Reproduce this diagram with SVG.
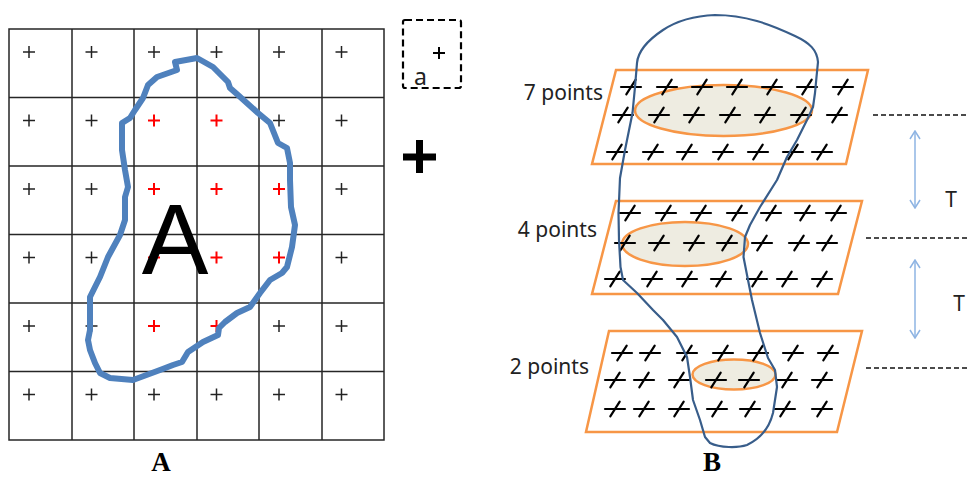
<svg xmlns="http://www.w3.org/2000/svg" xmlns:xlink="http://www.w3.org/1999/xlink" width="968" height="479" viewBox="0 0 968 479">
<style>
.grid{fill:none;stroke:#262626;stroke-width:1.5}
.pk{stroke:#222;stroke-width:1.5;fill:none}
.pr{stroke:#ff0000;stroke-width:2;fill:none}
.plane{fill:#ffffff;stroke:#f79646;stroke-width:2.5}
.ell{fill:#eeece1;stroke:#f79646;stroke-width:2.5}
.lbl{font-family:"Noto Sans","Liberation Sans",sans-serif;font-size:21px;fill:#222}
.cap{font-family:"Liberation Serif",serif;font-weight:bold;font-size:27px;fill:#000}
.dash{stroke:#111;stroke-width:1.5;stroke-dasharray:5 3;fill:none}
.arr{stroke:#8eb4e3;stroke-width:1.5;fill:none}
</style>
<defs>
<g id="pp"><line x1="-6" y1="0" x2="6" y2="0"/><line x1="0" y1="-6" x2="0" y2="6"/></g>
<g id="sx" stroke="#000" stroke-width="2.2" stroke-linecap="round"><line x1="-10" y1="0" x2="10" y2="0"/><line x1="4.7" y1="-7.3" x2="-4.7" y2="7.3"/></g>
<marker id="ah" viewBox="0 0 12 12" refX="11" refY="6" markerWidth="12" markerHeight="12" markerUnits="userSpaceOnUse" orient="auto-start-reverse"><polyline points="3,1 11,6 3,11" fill="none" stroke="#8eb4e3" stroke-width="1.5"/></marker>
</defs>

<g id="gridA">
<rect class="grid" x="9" y="29" width="375" height="411"/>
<path class="grid" d="M72,29V440M134,29V440M197,29V440M259,29V440M322,29V440M9,97.5H384M9,166H384M9,234.5H384M9,303H384M9,371.5H384"/>
<g class="pk">
<use xlink:href="#pp" x="29" y="52"/><use xlink:href="#pp" x="91.5" y="52"/><use xlink:href="#pp" x="154" y="52"/><use xlink:href="#pp" x="216.5" y="52"/><use xlink:href="#pp" x="279" y="52"/><use xlink:href="#pp" x="341.5" y="52"/>
<use xlink:href="#pp" x="29" y="120.5"/><use xlink:href="#pp" x="91.5" y="120.5"/><use xlink:href="#pp" x="279" y="120.5"/><use xlink:href="#pp" x="341.5" y="120.5"/>
<use xlink:href="#pp" x="29" y="189"/><use xlink:href="#pp" x="91.5" y="189"/><use xlink:href="#pp" x="341.5" y="189"/>
<use xlink:href="#pp" x="29" y="257.5"/><use xlink:href="#pp" x="91.5" y="257.5"/><use xlink:href="#pp" x="341.5" y="257.5"/>
<use xlink:href="#pp" x="29" y="326"/><use xlink:href="#pp" x="91.5" y="326"/><use xlink:href="#pp" x="279" y="326"/><use xlink:href="#pp" x="341.5" y="326"/>
<use xlink:href="#pp" x="29" y="394.5"/><use xlink:href="#pp" x="91.5" y="394.5"/><use xlink:href="#pp" x="154" y="394.5"/><use xlink:href="#pp" x="216.5" y="394.5"/><use xlink:href="#pp" x="279" y="394.5"/><use xlink:href="#pp" x="341.5" y="394.5"/>
</g>
<g class="pr">
<use xlink:href="#pp" x="154" y="120.5"/><use xlink:href="#pp" x="216.5" y="120.5"/>
<use xlink:href="#pp" x="154" y="189"/><use xlink:href="#pp" x="216.5" y="189"/><use xlink:href="#pp" x="279" y="189"/>
<use xlink:href="#pp" x="154" y="257.5"/><use xlink:href="#pp" x="216.5" y="257.5"/><use xlink:href="#pp" x="279" y="257.5"/>
<use xlink:href="#pp" x="154" y="326"/><use xlink:href="#pp" x="216.5" y="326"/>
</g>
<path d="M197,58 L213,67 L228,82 L230,88 L238,95 L258,113 L270,123 L278,143 L287,148 L290,163 L290,180 L291,207 L295,225 L292,247 L287,267 L282,273 L270,280 L260,293 L250,307 L237,313 L225,322 L219,328 L218,335 L203,342 L188,352 L182,362 L173,365 L160,370 L133,380 L110,378 L100,373 L95,363 L90,350 L88,340 L90,330 L90,297 L100,277 L108,257 L120,235 L125,220 L125,197 L128,187 L125,170 L122,150 L122,123 L130,118 L135,110 L143,98 L148,85 L157,77 L177,70 L175,62 Z" fill="none" stroke="#4f81bd" stroke-width="6" stroke-linejoin="round"/>
<text x="175" y="274" font-family="Liberation Sans,sans-serif" font-size="100" text-anchor="middle" fill="#000">A</text>
</g>

<g id="cellA">
<rect x="403" y="20" width="58" height="68" rx="2" fill="none" stroke="#000" stroke-width="2.2" stroke-dasharray="7 4"/>
<g stroke="#000" stroke-width="2"><line x1="433" y1="53" x2="445" y2="53"/><line x1="439" y1="47" x2="439" y2="59"/></g>
<text x="414" y="85" font-family="Noto Sans,Liberation Sans,sans-serif" font-size="23" fill="#222">a</text>
</g>

<g id="bigPlus" stroke="#000" stroke-width="7"><line x1="403" y1="157" x2="436" y2="157"/><line x1="419.5" y1="140" x2="419.5" y2="173"/></g>

<g id="plane7">
<polygon class="plane" points="616,70 868,70 846,164 592,164"/>
<ellipse class="ell" cx="723.5" cy="110.5" rx="88.5" ry="25.5"/>
<use xlink:href="#sx" x="631" y="87"/><use xlink:href="#sx" x="667" y="87"/><use xlink:href="#sx" x="702" y="87"/><use xlink:href="#sx" x="737" y="87"/><use xlink:href="#sx" x="772" y="87"/><use xlink:href="#sx" x="807" y="87"/><use xlink:href="#sx" x="843" y="87"/>
<use xlink:href="#sx" x="623" y="115"/><use xlink:href="#sx" x="659" y="115"/><use xlink:href="#sx" x="694" y="115"/><use xlink:href="#sx" x="730" y="115"/><use xlink:href="#sx" x="765" y="115"/><use xlink:href="#sx" x="801" y="115"/><use xlink:href="#sx" x="837" y="115"/>
<use xlink:href="#sx" x="617" y="152"/><use xlink:href="#sx" x="653" y="152"/><use xlink:href="#sx" x="687" y="152"/><use xlink:href="#sx" x="723" y="152"/><use xlink:href="#sx" x="758" y="152"/><use xlink:href="#sx" x="793" y="152"/><use xlink:href="#sx" x="822" y="152"/>
<text class="lbl" x="603" y="100" text-anchor="end">7 points</text>
</g>

<g id="plane4">
<polygon class="plane" points="616,201 862,201 838,294 592,294"/>
<ellipse class="ell" cx="685" cy="244" rx="63" ry="22"/>
<use xlink:href="#sx" x="630" y="213"/><use xlink:href="#sx" x="666" y="213"/><use xlink:href="#sx" x="701" y="213"/><use xlink:href="#sx" x="737" y="213"/><use xlink:href="#sx" x="771" y="213"/><use xlink:href="#sx" x="805" y="213"/><use xlink:href="#sx" x="836" y="213"/>
<use xlink:href="#sx" x="625" y="243"/><use xlink:href="#sx" x="659" y="243"/><use xlink:href="#sx" x="694" y="243"/><use xlink:href="#sx" x="727" y="243"/><use xlink:href="#sx" x="762" y="243"/><use xlink:href="#sx" x="799" y="243"/><use xlink:href="#sx" x="827" y="243"/>
<use xlink:href="#sx" x="615" y="279"/><use xlink:href="#sx" x="652" y="279"/><use xlink:href="#sx" x="687" y="279"/><use xlink:href="#sx" x="721" y="279"/><use xlink:href="#sx" x="757" y="279"/><use xlink:href="#sx" x="787" y="279"/><use xlink:href="#sx" x="822" y="279"/>
<text class="lbl" x="597" y="237" text-anchor="end">4 points</text>
</g>

<g id="plane2">
<polygon class="plane" points="609,331 862,331 837,432 586,432"/>
<ellipse class="ell" cx="734" cy="374.5" rx="41.5" ry="15"/>
<use xlink:href="#sx" x="622" y="353"/><use xlink:href="#sx" x="650" y="353"/><use xlink:href="#sx" x="687" y="353"/><use xlink:href="#sx" x="723" y="353"/><use xlink:href="#sx" x="758" y="353"/><use xlink:href="#sx" x="793" y="353"/><use xlink:href="#sx" x="828" y="353"/>
<use xlink:href="#sx" x="615" y="380"/><use xlink:href="#sx" x="644" y="380"/><use xlink:href="#sx" x="679" y="380"/><use xlink:href="#sx" x="716" y="380"/><use xlink:href="#sx" x="749" y="380"/><use xlink:href="#sx" x="787" y="380"/><use xlink:href="#sx" x="822" y="380"/>
<use xlink:href="#sx" x="615" y="409"/><use xlink:href="#sx" x="644" y="409"/><use xlink:href="#sx" x="679" y="409"/><use xlink:href="#sx" x="717" y="409"/><use xlink:href="#sx" x="750" y="409"/><use xlink:href="#sx" x="785" y="409"/><use xlink:href="#sx" x="822" y="409"/>
<text class="lbl" x="589" y="374" text-anchor="end">2 points</text>
</g>

<g id="objectB">
<path d="M637,63 C638,52 648,40 663,30 C675,22 690,16 715,15 C745,15 770,24 795,36 C810,43 817,50 818,62 L816.5,77 L815,93 L813,107 L807,120 L797,140 L787,157 L777,180 L760,207 L750,225 L745,237 L743.5,257 L748,280 L752,300 L760,333 L768,358 L775,370 L777,387 L773,413 C770,425 762,438 747,445 C738,448 720,448 710,443 L705,437 L700,420 L693,400 L690,377 L687,357 L677,337 L663,320 L653,310 L637,293 L623,280 L620.5,267 L619,240 L618.5,213 L620,178 L625,150 L632.5,113 L635,87 Z" fill="none" stroke="#385d8a" stroke-width="2.2" stroke-linejoin="round"/>
</g>

<g id="connectors">
<line class="dash" x1="873" y1="115" x2="968" y2="115"/>
<line class="dash" x1="866" y1="238" x2="968" y2="238"/>
<line class="dash" x1="866" y1="368" x2="968" y2="368"/>
<line class="arr" x1="915" y1="131" x2="915" y2="208" marker-start="url(#ah)" marker-end="url(#ah)"/>
<line class="arr" x1="915" y1="260" x2="915" y2="338" marker-start="url(#ah)" marker-end="url(#ah)"/>
</g>
<text class="lbl" x="951" y="207" text-anchor="middle">T</text>
<text class="lbl" x="959" y="311" text-anchor="middle">T</text>

<text class="cap" x="161" y="471" text-anchor="middle">A</text>
<text class="cap" x="712" y="471" text-anchor="middle">B</text>
</svg>
